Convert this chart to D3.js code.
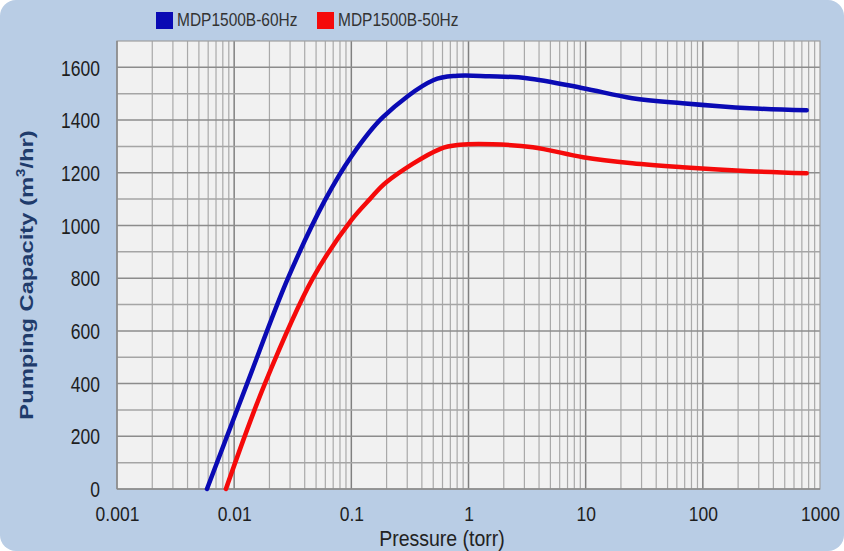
<!DOCTYPE html>
<html>
<head>
<meta charset="utf-8">
<script src="https://cdn.jsdelivr.net/npm/d3@7/dist/d3.min.js"></script>
<style>
html,body{margin:0;padding:0;background:#ffffff;}
svg{display:block;}
text{font-family:"Liberation Sans",Arial,sans-serif;}
</style>
</head>
<body>
<svg id="chart" width="844" height="551"></svg>
<script>
// ---- data ----
const seriesNames = ["MDP1500B-60Hz", "MDP1500B-50Hz"];
const seriesColors = ["#0a0ab4", "#f50a0a"];
const pressure60 = [0.00586, 0.0129, 0.0288, 0.0596, 0.10, 0.186, 0.50, 0.80, 1.5, 3.15, 9.5, 25, 67, 251, 770];
const capacity60 = [0, 400, 800, 1096, 1262, 1411, 1551, 1568, 1566, 1559, 1521, 1483, 1464, 1445, 1437];
const pressure50 = [0.0085, 0.0183, 0.047, 0.10, 0.144, 0.20, 0.57, 0.85, 1.6, 3.54, 9.5, 25, 67, 251, 770];
const capacity50 = [0, 400, 800, 1020, 1100, 1165, 1290, 1306, 1308, 1297, 1259, 1236, 1221, 1206, 1198];
const xTickValues = [0.001, 0.01, 0.1, 1, 10, 100, 1000];
const xTickLabels = ["0.001", "0.01", "0.1", "1", "10", "100", "1000"];
const yTickValues = [0, 200, 400, 600, 800, 1000, 1200, 1400, 1600];
const xTitle = "Pressure (torr)";

const svg = d3.select("#chart");
const W = 844, H = 551;
const L = 117, R = 820, T = 41, B = 489;

// background
svg.append("rect").attr("x", 0).attr("y", 0).attr("width", W).attr("height", H)
  .attr("rx", 16).attr("fill", "#b9cde5");

const x = d3.scaleLog().domain([0.001, 1000]).range([L, R]);
const y = d3.scaleLinear().domain([0, 1700]).range([B, T]);

// plot area
svg.append("rect").attr("x", L).attr("y", T).attr("width", R - L).attr("height", B - T)
  .attr("fill", "#f1f1f1");

// vertical grid (log minor + major)
const minor = [];
for (let e = -3; e < 3; e++) {
  for (let k = 2; k <= 9; k++) minor.push(k * Math.pow(10, e));
}
svg.append("g").selectAll("line").data(minor).join("line")
  .attr("x1", d => x(d)).attr("x2", d => x(d)).attr("y1", T).attr("y2", B)
  .attr("stroke", "#a9a9a9").attr("stroke-width", 1.2);
svg.append("g").selectAll("line").data(xTickValues.slice(1, -1)).join("line")
  .attr("x1", d => x(d)).attr("x2", d => x(d)).attr("y1", T).attr("y2", B)
  .attr("stroke", "#808080").attr("stroke-width", 1.5);

// horizontal grid
const hGrid = d3.range(100, 1700, 100);
svg.append("g").selectAll("line").data(hGrid).join("line")
  .attr("x1", L).attr("x2", R).attr("y1", d => y(d)).attr("y2", d => y(d))
  .attr("stroke", d => d % 200 === 0 ? "#8c8c8c" : "#a5a5a5").attr("stroke-width", 1.5);

// border
svg.append("rect").attr("x", L).attr("y", T).attr("width", R - L).attr("height", B - T)
  .attr("fill", "none").attr("stroke", "#a0a0a0").attr("stroke-width", 1.2);
svg.append("line").attr("x1", L).attr("x2", L).attr("y1", T).attr("y2", B)
  .attr("stroke", "#888").attr("stroke-width", 1.5);
svg.append("line").attr("x1", L).attr("x2", R).attr("y1", B).attr("y2", B)
  .attr("stroke", "#888").attr("stroke-width", 1.5);

// y tick labels (via axis)
const yAxis = svg.append("g").attr("transform", `translate(${L},0)`)
  .call(d3.axisLeft(y).tickValues(yTickValues).tickSize(0).tickPadding(17).tickFormat(d3.format("d")));
yAxis.select(".domain").remove();
yAxis.selectAll("text")
  .attr("font-size", 17.5).attr("fill", "#1e1e1e")
  .attr("font-family", "'Liberation Sans', Arial, sans-serif")
  .attr("y", 0).attr("dy", "0.36em")
  .attr("transform", "scale(1,1.22)");

// x tick labels (via axis)
const xAxis = svg.append("g").attr("transform", `translate(0,${B})`)
  .call(d3.axisBottom(x).tickValues(xTickValues).tickSize(0).tickPadding(0)
    .tickFormat((d, i) => xTickLabels[i]));
xAxis.select(".domain").remove();
xAxis.selectAll("text")
  .attr("font-size", 17.5).attr("fill", "#1e1e1e")
  .attr("font-family", "'Liberation Sans', Arial, sans-serif")
  .attr("y", 0).attr("dy", 0)
  .attr("transform", "translate(0,32) scale(1,1.2)");

// axis titles
svg.append("text").attr("transform", "translate(442,546) scale(1,1.15)")
  .attr("text-anchor", "middle").attr("font-size", 19.5).attr("fill", "#222")
  .text(xTitle);

const yt = svg.append("text").attr("transform", "translate(33,275) rotate(-90) scale(1.25,1)")
  .attr("text-anchor", "middle").attr("font-size", 19).attr("font-weight", "bold")
  .attr("fill", "#1f3b6b");
yt.append("tspan").text("Pumping Capacity (m");
yt.append("tspan").attr("font-size", 12).attr("dy", -8).text("3");
yt.append("tspan").attr("dy", 8).text("/hr)");

// lines
const line = d3.line().x(d => x(d[0])).y(d => y(d[1])).curve(d3.curveCatmullRom.alpha(0.5));
const data60 = pressure60.map((p, i) => [p, capacity60[i]]);
const data50 = pressure50.map((p, i) => [p, capacity50[i]]);
[data60, data50].forEach((dd, i) => {
  svg.append("path").datum(dd).attr("d", line).attr("fill", "none")
    .attr("stroke", seriesColors[i]).attr("stroke-width", 4.5)
    .attr("stroke-linecap", "round").attr("stroke-linejoin", "round");
});

// legend
const legX = [156, 317];
seriesNames.forEach((n, i) => {
  svg.append("rect").attr("x", legX[i]).attr("y", 12).attr("width", 17).attr("height", 17)
    .attr("fill", seriesColors[i]);
  svg.append("text").attr("transform", `translate(${legX[i] + 21},26) scale(1,1.15)`)
    .attr("font-size", 15.5).attr("fill", "#333").text(n);
});
</script>
</body>
</html>
